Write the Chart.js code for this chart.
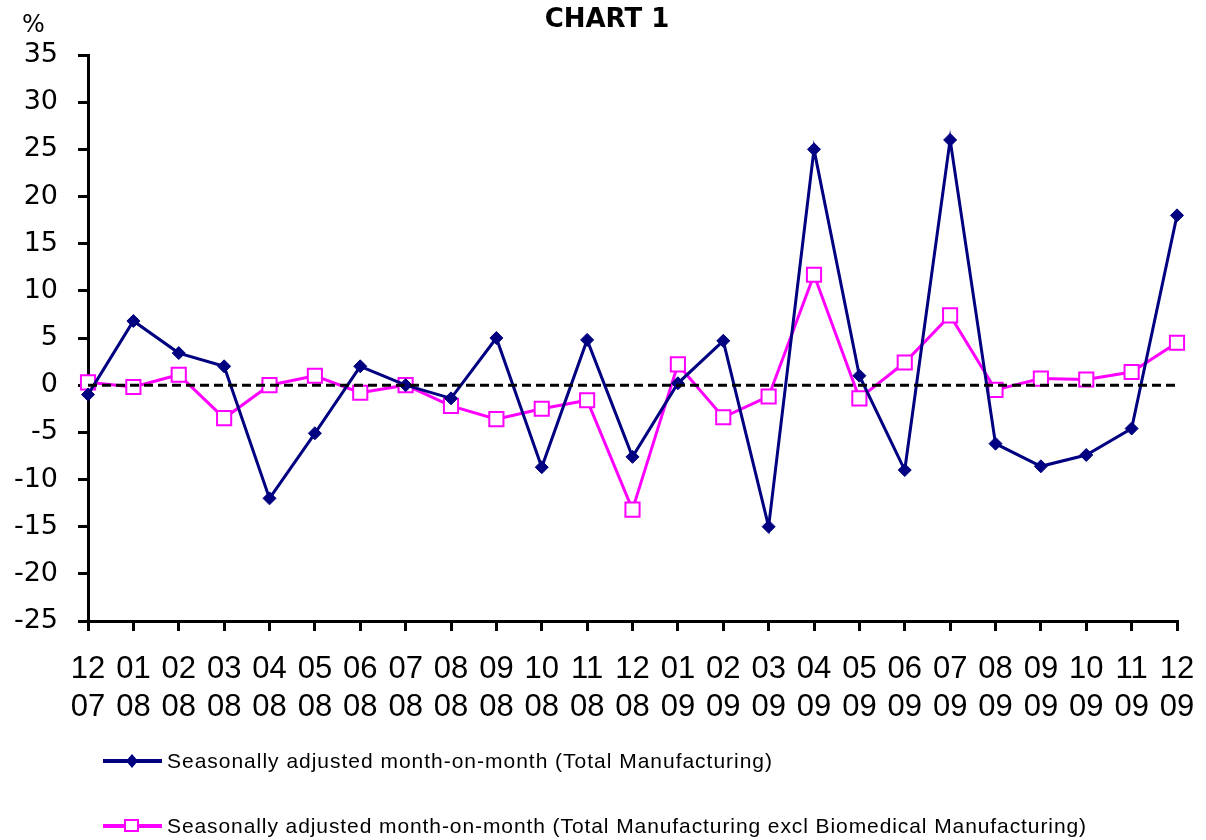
<!DOCTYPE html>
<html lang="en">
<head>
    <meta charset="UTF-8">
    <title>Chart 1</title>
    <script src="https://cdn.jsdelivr.net/npm/chart.js"></script>
    <style>
        body { margin: 0; background: #fff; }
    </style>
</head>
<body>
    <canvas id="chart1" width="1206" height="840"></canvas>

    <script>
        // month / year tick labels
        const months = ['12','01','02','03','04','05','06','07','08','09','10','11','12','01','02','03','04','05','06','07','08','09','10','11','12'];
        const years  = ['07','08','08','08','08','08','08','08','08','08','08','08','08','09','09','09','09','09','09','09','09','09','09','09','09'];

        // month-on-month % change, seasonally adjusted
        const totalMfg = [-1.0, 6.8, 3.4, 2.0, -12.0, -5.1, 2.0, 0.0, -1.4, 5.0, -8.7, 4.8, -7.6, 0.2, 4.7, -15.0, 25.0, 1.0, -9.0, 26.0, -6.2, -8.6, -7.4, -4.6, 18.0];
        const exclBiomed = [0.3, -0.2, 1.1, -3.5, 0.0, 1.0, -0.8, 0.0, -2.2, -3.6, -2.5, -1.6, -13.2, 2.2, -3.4, -1.2, 11.7, -1.4, 2.4, 7.4, -0.5, 0.7, 0.6, 1.4, 4.5];

        const seriesNames = [
            'Seasonally adjusted month-on-month (Total Manufacturing)',
            'Seasonally adjusted month-on-month (Total Manufacturing excl Biomedical Manufacturing)'
        ];

        const labels = months.map((m, i) => [m, years[i]]);

        // title, % sign, zero line and legend
        const extras = {
            id: 'extras',
            afterDatasetsDraw(chart) {
                const ctx = chart.ctx;
                const y0 = chart.scales.y.getPixelForValue(0);
                ctx.save();
                ctx.strokeStyle = '#000';
                ctx.lineWidth = 3;
                ctx.setLineDash([9, 5]);
                ctx.beginPath();
                ctx.moveTo(chart.chartArea.left, y0);
                ctx.lineTo(chart.chartArea.right, y0);
                ctx.stroke();
                ctx.restore();
            },
            afterDraw(chart) {
                const ctx = chart.ctx;
                ctx.save();
                ctx.fillStyle = '#000';
                ctx.textBaseline = 'alphabetic';
                ctx.textAlign = 'center';
                ctx.font = 'bold 26px "DejaVu Sans"';
                ctx.fillText('CHART 1', 607, 27);

                ctx.textAlign = 'left';
                ctx.font = '24px "DejaVu Sans"';
                ctx.fillText('%', 22, 32);

                // legend
                const items = [
                    { color: '#000080', style: 'rectRot', y: 761, end: 773 },
                    { color: '#ff00ff', style: 'rect', y: 826, end: 1087 }
                ];
                items.forEach((it, i) => {
                    ctx.strokeStyle = it.color;
                    ctx.lineWidth = 4;
                    ctx.setLineDash([]);
                    ctx.beginPath();
                    ctx.moveTo(103, it.y);
                    ctx.lineTo(162, it.y);
                    ctx.stroke();
                    if (it.style === 'rect') {
                        ctx.fillStyle = '#fff';
                        ctx.lineWidth = 2;
                        ctx.fillRect(125, it.y - 6, 13, 11);
                        ctx.strokeRect(125, it.y - 6, 13, 11);
                    } else {
                        ctx.fillStyle = it.color;
                        ctx.beginPath();
                        ctx.moveTo(132, it.y - 7);
                        ctx.lineTo(138, it.y);
                        ctx.lineTo(132, it.y + 7);
                        ctx.lineTo(126, it.y);
                        ctx.closePath();
                        ctx.fill();
                    }
                    ctx.fillStyle = '#000';
                    ctx.font = '21px "Liberation Sans", Arial, sans-serif';
                    ctx.textBaseline = 'middle';
                    const text = seriesNames[i];
                    const w = ctx.measureText(text).width;
                    ctx.letterSpacing = ((it.end - 167 - w) / text.length) + 'px';
                    ctx.fillText(text, 167, it.y + 1);
                    ctx.letterSpacing = '0px';
                });
                ctx.restore();
            }
        };

        const ctx = document.getElementById('chart1').getContext('2d');
        const chart = new Chart(ctx, {
            type: 'line',
            data: {
                labels: labels,
                datasets: [{
                    label: seriesNames[0],
                    data: totalMfg,
                    borderColor: '#000080',
                    backgroundColor: '#000080',
                    borderWidth: 3,
                    pointStyle: 'rectRot',
                    pointRadius: 6.5,
                    pointBorderWidth: 1,
                    tension: 0
                }, {
                    label: seriesNames[1],
                    data: exclBiomed,
                    borderColor: '#ff00ff',
                    backgroundColor: '#ffffff',
                    borderWidth: 3,
                    pointStyle: 'rect',
                    pointRadius: 10,
                    pointBorderWidth: 2,
                    tension: 0
                }]
            },
            options: {
                responsive: false,
                animation: false,
                layout: { padding: { top: 55, right: 29, left: 0, bottom: 0 } },
                plugins: {
                    legend: { display: false },
                    title: { display: false },
                    tooltip: { enabled: false }
                },
                scales: {
                    x: {
                        afterFit: s => { s.height = 219; s.paddingRight = 0; },
                        grid: { drawOnChartArea: false, drawTicks: true, tickLength: 10, color: '#000', lineWidth: 3 },
                        border: { display: true, color: '#000', width: 3 },
                        ticks: {
                            color: '#000',
                            padding: 20,
                            maxRotation: 0,
                            autoSkip: false,
                            font: {
                                family: '"Liberation Sans", Arial, sans-serif',
                                size: 31,
                                lineHeight: 1.22
                            }
                        }
                    },
                    y: {
                        min: -25,
                        max: 35,
                        afterFit: s => { s.width = 88; },
                        grid: { drawOnChartArea: false, drawTicks: true, tickLength: 10, color: '#000', lineWidth: 3 },
                        border: { display: true, color: '#000', width: 3 },
                        ticks: {
                            stepSize: 5,
                            color: '#000',
                            padding: 20,
                            font: { family: '"DejaVu Sans"', size: 27 }
                        }
                    }
                }
            },
            plugins: [extras]
        });
    </script>
</body>
</html>
